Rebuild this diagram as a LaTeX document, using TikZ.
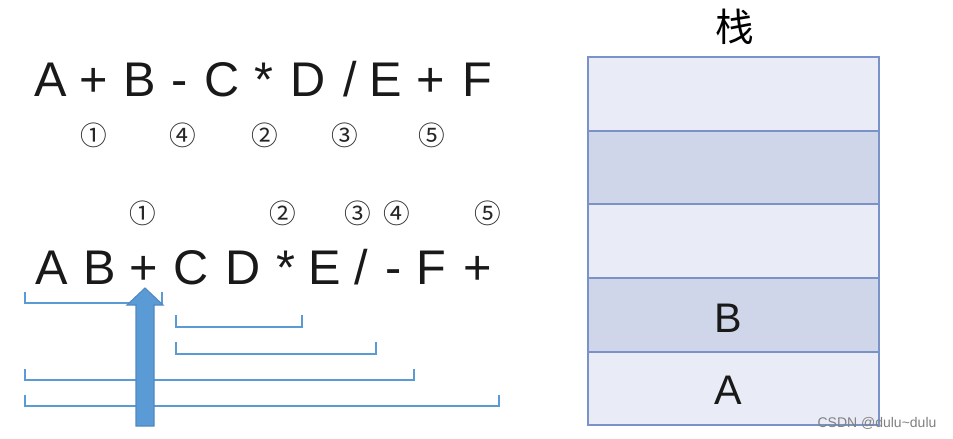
\documentclass[tikz,border=0pt]{standalone}
\usepackage{fontspec}
\setmainfont{Liberation Sans}
\newfontfamily\lat{Liberation Sans}
\newfontfamily\cjk{Noto Sans CJK SC}
\definecolor{brkc}{HTML}{5B9BD5}
\definecolor{arrfill}{HTML}{5B9BD5}
\definecolor{arrline}{HTML}{4F88C2}
\definecolor{stline}{HTML}{7A92C8}
\definecolor{stlight}{HTML}{E9ECF6}
\definecolor{stdark}{HTML}{CFD6E9}
\begin{document}
\begin{tikzpicture}[x=0.75pt,y=-0.75pt,
  big/.style={font=\lat\fontsize{36.5}{40}\selectfont, inner sep=0, anchor=base, text=black!90},
  circ/.style={font=\cjk\fontsize{20}{24}\selectfont, inner sep=0, text=black!85},
  brk/.style={draw=brkc, line width=1.1pt},
  cell/.style={draw=stline, line width=0.9pt},
  stxt/.style={font=\lat\fontsize{31}{34}\selectfont, inner sep=0, text=black!90}
]
\useasboundingbox (0,0) rectangle (953,439);
% top expression
\foreach \c/\x [count=\i] in {A/51,+/94,B/140,-/180,C/222,*/264,D/308,{/}/350,E/386,+/431,F/477}
  \node[big] (t\i) at (\x,96) {\c};
\foreach \c/\x [count=\i] in {①/94,④/183,②/265,③/345,⑤/432}
  \node[circ] (tc\i) at (\x,135) {\c};
% postfix expression
\foreach \c/\x [count=\i] in {A/52,B/100,+/144,C/191,D/243,*/286,E/325,{/}/361,-/394,F/431,+/478}
  \node[big] (p\i) at (\x,284) {\c};
\foreach \c/\x [count=\i] in {①/143,②/283,③/358,④/397,⑤/488}
  \node[circ] (pc\i) at (\x,213) {\c};
% brackets
\draw[brk] (25,292) -- (25,303) -- (162,303) -- (162,292);
\draw[brk] (176,315) -- (176,327) -- (302,327) -- (302,315);
\draw[brk] (176,342) -- (176,354) -- (376,354) -- (376,342);
\draw[brk] (25,369) -- (25,380) -- (414,380) -- (414,369);
\draw[brk] (25,395) -- (25,406) -- (499,406) -- (499,395);
% arrow
\draw[fill=arrfill, draw=arrline, line width=0.8pt]
  (136,426) -- (136,305) -- (127,305) -- (145,288) -- (163,305) -- (154,305) -- (154,426) -- cycle;
% stack
\node[font=\cjk\fontsize{29}{32}\selectfont, inner sep=0] (title) at (735,27) {栈};
\filldraw[cell, fill=stlight] (588,57) rectangle (879,131);
\filldraw[cell, fill=stdark] (588,131) rectangle (879,204);
\filldraw[cell, fill=stlight] (588,204) rectangle (879,278);
\filldraw[cell, fill=stdark] (588,278) rectangle (879,352);
\filldraw[cell, fill=stlight] (588,352) rectangle (879,425);
\node[stxt] (sB) at (728,318) {B};
\node[stxt] (sA) at (728,390) {A};
\node[font=\lat\fontsize{10.5}{12}\selectfont, text=black!50, inner sep=0] (wm) at (877,423) {CSDN @dulu\textasciitilde dulu};
\end{tikzpicture}
\end{document}
